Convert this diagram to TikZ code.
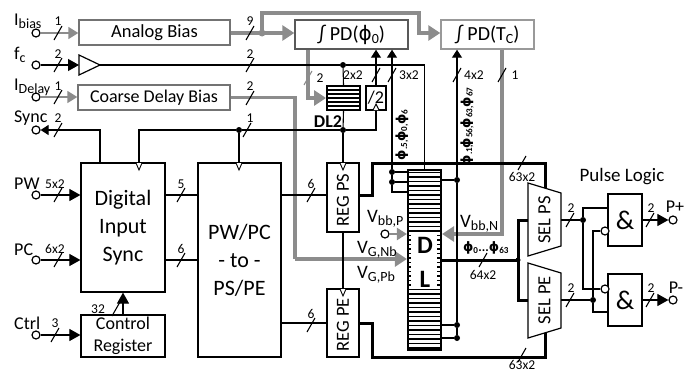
\documentclass[tikz,border=0pt]{standalone}
\usepackage{fontspec}
\setmainfont{Carlito}
\newfontfamily\symfont{DejaVu Sans}
\usetikzlibrary{arrows.meta,calc}
\definecolor{busgray}{HTML}{8C8C8C}
\def\busslash[#1](#2){\draw[#1] ($(#2)+(-4,7)$) -- ($(#2)+(4,-7)$);}
\def\clockdown(#1){\draw[line width=0.9pt,fill=white] ($(#1)+(-3,0)$) -- ($(#1)+(0,7)$) -- ($(#1)+(3,0)$);}
\def\subt#1{\raisebox{-0.16em}{\fontsize{14}{14}\selectfont #1}}
\tikzset{
	x=1pt, y=-1pt,
	blk/.style={draw=black, line width=1.2pt, fill=white, inner sep=0pt, align=center, font=\fontsize{22}{28}\selectfont},
	gblk/.style={draw=black!55, line width=1.4pt, fill=white, inner sep=0pt, font=\fontsize{18}{20}\selectfont},
	port/.style={circle, draw=black, line width=1.2pt, fill=white, inner sep=0pt, minimum size=8pt},
	dot/.style={circle, fill=black, inner sep=0pt, minimum size=6pt},
	txt/.style={inner sep=0pt, font=\fontsize{18}{20}\selectfont},
	lbl/.style={inner sep=0pt, font=\fontsize{13.5}{15}\selectfont},
	sig/.style={line width=1.1pt, draw=black},
	sigar/.style={sig, -{Triangle[length=11pt,width=12pt]}},
	tip/.style={sig, -{Triangle[length=8pt,width=10pt]}},
	hbus/.style={line width=3pt, draw=black},
	gbus/.style={line width=3.2pt, draw=busgray},
	gbar/.style={gbus, -{Triangle[length=12pt,width=15pt]}},
	gthin/.style={line width=1.8pt, draw=busgray, -{Triangle[length=10pt,width=12pt]}}
}

\begin{document}
\begin{tikzpicture}
	\useasboundingbox (0,0) rectangle (694,372);

	%%%%% blocks %%%%%
	\node[gblk, minimum width=151pt, minimum height=25pt, font=\fontsize{18.5}{20}\selectfont] (abias) at (154.5,32.5) {Analog Bias};
	\node[gblk, minimum width=152pt, minimum height=25pt] (cdbias) at (154,97.5) {Coarse Delay Bias};
	\node[gblk, draw=black!65, minimum width=113pt, minimum height=29pt, font=\fontsize{20}{22}\selectfont] (pdphi) at (351.5,34.5) {∫ PD({\symfont ϕ}\subt{0})};
	\node[gblk, draw=black!40, minimum width=93pt, minimum height=29pt, font=\fontsize{20}{22}\selectfont] (pdtc) at (487.5,34.5) {∫ PD(T\subt{C})};
	\node[blk, minimum width=84pt, minimum height=129pt] (dis) at (123,227.5) {Digital\\Input\\Sync};
	\node[blk, minimum width=83pt, minimum height=194pt] (conv) at (239.5,260) {PW/PC\\- to -\\PS/PE};
	\node[blk, minimum width=84pt, minimum height=42pt, font=\fontsize{18}{21.5}\selectfont] (ctrl) at (123,336) {Control\\Register};
	\node[blk, minimum width=32pt, minimum height=69pt] (regps) at (343,197.5) {};
	\node[blk, minimum width=32pt, minimum height=68pt] (regpe) at (343,323) {};
	\node[txt, rotate=90, font=\fontsize{18.5}{20}\selectfont] (regpst) at (343,200) {REG PS};
	\node[txt, rotate=90, font=\fontsize{18.5}{20}\selectfont] (regpet) at (343,325) {REG PE};
	\node[blk, minimum width=20pt, minimum height=24pt, font=\fontsize{18}{20}\selectfont] (div) at (376,98) {/2};
	\node[blk, line width=2pt, minimum width=33pt, minimum height=24pt] (dlb) at (343.5,98) {};
	\foreach \yy in {90,94,98,102,106}
		\draw[line width=1.3pt] (327,\yy) -- (360,\yy);
	\node[inner sep=0pt, font=\bfseries\fontsize{18}{20}\selectfont] (dlbt) at (328,122) {DL2};

	\node[blk, line width=2.2pt, minimum width=33pt, minimum height=180pt] (dl) at (424.5,260) {};
	\foreach \yy in {172.5,177,...,348}
		\draw[line width=1.7pt] (408,\yy) -- (441,\yy);
	\node[fill=white, inner sep=0pt, minimum width=26pt, minimum height=56pt] (dlc) at (424,260) {};
	\node[inner sep=0pt, font=\bfseries\fontsize{25}{28}\selectfont] (dld) at (425,245) {D};
	\node[inner sep=0pt, font=\bfseries\fontsize{25}{28}\selectfont] (dll) at (425,279) {L};

	\node[blk, minimum width=34pt, minimum height=52pt] (and1) at (625,220) {\fontsize{27}{28}\selectfont\&};
	\node[blk, minimum width=34pt, minimum height=52pt] (and2) at (625,300) {\fontsize{27}{28}\selectfont\&};

	% selectors and buffer
	\draw[line width=1.2pt] (528,183) -- (561,193) -- (561,246) -- (528,256) -- cycle;
	\draw[line width=1.2pt] (528,263) -- (561,273) -- (561,328) -- (528,338) -- cycle;
	\node[txt, rotate=90, font=\fontsize{18.5}{20}\selectfont] (selps) at (544.5,220) {SEL PS};
	\node[txt, rotate=90, font=\fontsize{18.5}{20}\selectfont] (selpe) at (544.5,300) {SEL PE};
	\coordinate (selpso) at (561,220);
	\coordinate (selpeo) at (561,300);
	\coordinate (selpsi) at (528,220);
	\coordinate (selpei) at (528,300);
	\coordinate (selpst) at (545,188);
	\coordinate (selpeb) at (545,333);
	\draw[line width=1.2pt] (79,55) -- (100,65) -- (79,75) -- cycle;
	\coordinate (bufin) at (79,65);
	\coordinate (bufout) at (100,65);

	%%%%% ports and junctions %%%%%
	\node[port] (ibias) at (36,33) {};
	\node[port] (fc) at (36,65) {};
	\node[port] (idelay) at (36,97) {};
	\node[port] (sync) at (36,130) {};
	\node[port] (pw) at (36,195) {};
	\node[port] (pc) at (36,260) {};
	\node[port] (ct) at (36,335) {};
	\node[port] (vbbp) at (385,234) {};
	\node[port] (pplus) at (673,220) {};
	\node[port] (pminus) at (673,300) {};
	\node[port] (bub1) at (605,231) {};
	\node[port] (bub2) at (605,289) {};
	\node[dot, fill=busgray, minimum size=7pt] (jana) at (262,33) {};
	\node[dot] (jfc) at (343,65) {};
	\node[dot] (jsyn) at (239,130) {};
	\node[dot] (jdl) at (343,130) {};
	\node[dot] (jl1) at (392,172) {};
	\node[dot] (jl2) at (392,182) {};
	\node[dot] (jr1) at (457,180) {};
	\node[dot] (jr2) at (457,325) {};
	\node[dot] (jr3) at (457,338) {};
	\node[dot, minimum size=5pt] (jout) at (518,260) {};
	\node[dot] (jps) at (583,220) {};
	\node[dot] (jpe) at (593,300) {};
	\coordinate (vgn) at (295,259);
	\coordinate (gtop) at (419,13);

	%%%%% gray buses %%%%%
	\draw[gthin] (ibias) -- (abias.west |- ibias);
	\draw[gbar] (abias.east |- jana) -- (pdphi.west |- jana);
	\draw[gbar] (jana.center) |- (gtop) |- (pdtc.west |- jana);
	\draw[gthin] (idelay) -- (cdbias.west |- idelay);
	\draw[gbus] (cdbias.east) -| (vgn);
	\draw[gbar] (vgn) -- (dl.west |- vgn);
	\draw[gbar] (pdphi.south -| 308,0) |- (dlb.west);
	\draw[gbar] (pdtc.south -| 502,0) |- (dl.east |- vbbp);
	\draw[gthin, line width=2.4pt] (vbbp) -- (dl.west |- vbbp);

	%%%%% signals %%%%%
	\draw[sigar] (fc) -- (bufin);
	\draw[sig] (bufout) -- (jfc) -| (dl.north);
	\draw[sig] (jfc) -- (dlb.north);
	\draw[tip] (dis.north -| 100,0) |- (sync.east);
	\draw[sig] (dis.north -| 139,0) |- (jsyn);
	\draw[sig] (jsyn) -- (conv.north -| jsyn);
	\draw[sig] (jsyn) -- (jdl);
	\draw[sig] (jdl) -- (dlb.south);
	\draw[sig] (jdl) -- (regps.north);
	\draw[sig] (jdl) -| (div.south);
	\draw[sig] (regps.south) -- (regpe.north);
	\clockdown(139,163)
	\clockdown(239,163)
	\clockdown(343,163)
	\clockdown(343,289)
	\draw[line width=0.9pt, fill=white] (373,110) -- (376,104) -- (379,110);
	\draw[sigar] (pw) -- (dis.west |- pw);
	\draw[sigar] (pc) -- (dis.west |- pc);
	\draw[sigar] (ct) -- (ctrl.west |- ct);
	\draw[sig] (dis.east |- pw) -- (conv.west |- pw);
	\draw[sig] (dis.east |- pc) -- (conv.west |- pc);
	\draw[sig] (conv.east |- pw) -- (regps.west |- pw);
	\draw[sig] (conv.east |- regpe) -- (regpe.west);
	\draw[sigar] (ctrl.north) -- (dis.south -| ctrl.north);
	\draw[tip] (div.north) -- (pdphi.south -| div.north);
	\draw[tip] (jl1) -- (pdphi.south -| jl1);
	\draw[sig] (jl1) -- (jl2);
	\draw[sig] (jl2) |- (dl.west |- 0,192);
	\draw[sig] (jl1) -- (dl.west |- jl1);
	\draw[sig] (jl2) -- (dl.west |- jl2);
	\draw[tip] (jr1) -- (pdtc.south -| jr1);
	\draw[sig] (jr1) -- (jr2) -- (jr3);
	\draw[sig] (jr1) -- (dl.east |- jr1);
	\draw[sig] (jr2) -- (dl.east |- jr2);
	\draw[sig] (jr3) -- (dl.east |- jr3);
	\draw[sig] (jps) -- (selpso);
	\draw[sig] (jpe) -- (selpeo);
	\draw[sig] (jps) |- (and1.west |- 0,208);
	\draw[sig] (jps) |- (bub2);
	\draw[sig] (jpe) |- (bub1);
	\draw[sig] (jpe) |- (and2.west |- 0,312);
	\draw[sigar] (and1.east) -- (pplus);
	\draw[sigar] (and2.east) -- (pminus);

	%%%%% black buses %%%%%
	\draw[hbus] (regps.east |- pw) -| (372,163) -| (selpst);
	\draw[hbus] (regpe.east) -| (372,357) -| (selpeb);
	\draw[hbus] (dl.east |- jout) -- (jout.center);
	\draw[hbus] (selpsi) -| (jout.center);
	\draw[hbus] (selpei) -| (jout.center);

	%%%%% tap marks %%%%%
	\foreach \yy/\tt/\nn in {117/\textsubscript{6}/a,133/\textsubscript{0,}/b,150/\textsubscript{.5,}/c}
		\node[rotate=90, inner sep=0pt, font=\bfseries\fontsize{13}{13}\selectfont] (tapl\nn) at (402,\yy) {{\symfont ϕ}\tt};
	\foreach \yy/\tt/\nn in {97/\textsubscript{67}/a,117/\textsubscript{63,}/b,137/\textsubscript{56,}/c,155/\textsubscript{.1,}/d}
		\node[rotate=90, inner sep=0pt, font=\bfseries\fontsize{13}{13}\selectfont] (tapr\nn) at (467,\yy) {{\symfont ϕ}\tt};

	%%%%% bus marks %%%%%
	\busslash[sig](58,33) \node[lbl] (l1) at (58,21) {1};
	\busslash[sig](58,65) \node[lbl] (l2) at (58,54) {2};
	\busslash[sig](58,97) \node[lbl] (l3) at (58,86) {1};
	\busslash[sig](58,130) \node[lbl] (l4) at (58,118) {2};
	\busslash[sig](58,195) \node[lbl] (l5) at (55,184) {5x2};
	\busslash[sig](58,260) \node[lbl] (l6) at (55,249) {6x2};
	\busslash[sig](55,335) \node[lbl] (l7) at (55,323) {3};
	\busslash[sig](250,33) \node[lbl] (l8) at (250,21) {9};
	\busslash[sig](250,65) \node[lbl] (l9) at (250,54) {2};
	\busslash[sig](250,98) \node[lbl] (l10) at (250,86) {2};
	\busslash[sig](247,130) \node[lbl] (l11) at (250,118) {1};
	\busslash[sig](181,195) \node[lbl] (l12) at (181,184) {5};
	\busslash[sig](181,260) \node[lbl] (l13) at (181,249) {6};
	\busslash[sig](311,195) \node[lbl] (l14) at (311,184) {6};
	\busslash[sig](311,325) \node[lbl] (l15) at (311,314) {6};
	\busslash[sig](116,309) \node[lbl] (l16) at (98,309) {32};
	\busslash[line width=1.1pt, draw=busgray](308,78) \node[lbl] (l17) at (320,78) {2};
	\busslash[sig](376,75) \node[lbl] (l18) at (353,75) {2x2};
	\busslash[sig](392,75) \node[lbl] (l19) at (409,75) {3x2};
	\busslash[sig](457,75) \node[lbl] (l20) at (474,75) {4x2};
	\busslash[sig](502,75) \node[lbl] (l21) at (515,75) {1};
	\busslash[sig](522,163) \node[lbl] (l22) at (522,177) {63x2};
	\busslash[sig](522,355) \node[lbl] (l23) at (522,365) {63x2};
	\busslash[sig](483,260) \node[lbl] (l24) at (483,275) {64x2};
	\busslash[sig](570,220) \node[lbl] (l25) at (571,208) {2};
	\busslash[sig](570,300) \node[lbl] (l26) at (571,288) {2};
	\busslash[sig](650,220) \node[lbl] (l27) at (651,208) {2};
	\busslash[sig](650,300) \node[lbl] (l28) at (651,288) {2};

	%%%%% texts %%%%%
	\node[txt, anchor=west] (tibias) at (14,21) {I\subt{bias}};
	\node[txt, anchor=west] (tfc) at (14,55) {f\subt{c}};
	\node[txt, anchor=west] (tidelay) at (14,87) {I\subt{Delay}};
	\node[txt, anchor=west] (tsync) at (14,118) {Sync};
	\node[txt, anchor=west] (tpw) at (14,184) {PW};
	\node[txt, anchor=west] (tpc) at (14,250) {PC};
	\node[txt, anchor=west] (tctrl) at (14,323) {Ctrl};
	\node[txt, anchor=west, font=\fontsize{19}{20}\selectfont] (tvbbp) at (367,219) {V\subt{bb,P}};
	\node[txt, anchor=west, font=\fontsize{19}{20}\selectfont] (tvbbn) at (460,224) {V\subt{bb,N}};
	\node[txt, anchor=west, font=\fontsize{19}{20}\selectfont] (tvgn) at (357,250) {V\subt{G,Nb}};
	\node[txt, anchor=west, font=\fontsize{19}{20}\selectfont] (tvgp) at (357,275) {V\subt{G,Pb}};
	\node[inner sep=0pt, font=\bfseries\fontsize{13}{15}\selectfont] (tphi) at (486,248) {{\symfont ϕ}\textsubscript{0}...{\symfont ϕ}\textsubscript{63}};
	\node[txt, font=\fontsize{19}{20}\selectfont] (tpulse) at (622,177) {Pulse Logic};
	\node[txt] (tpp) at (675,207) {P+};
	\node[txt] (tpm) at (676,288) {P-};
\end{tikzpicture}
\end{document}
